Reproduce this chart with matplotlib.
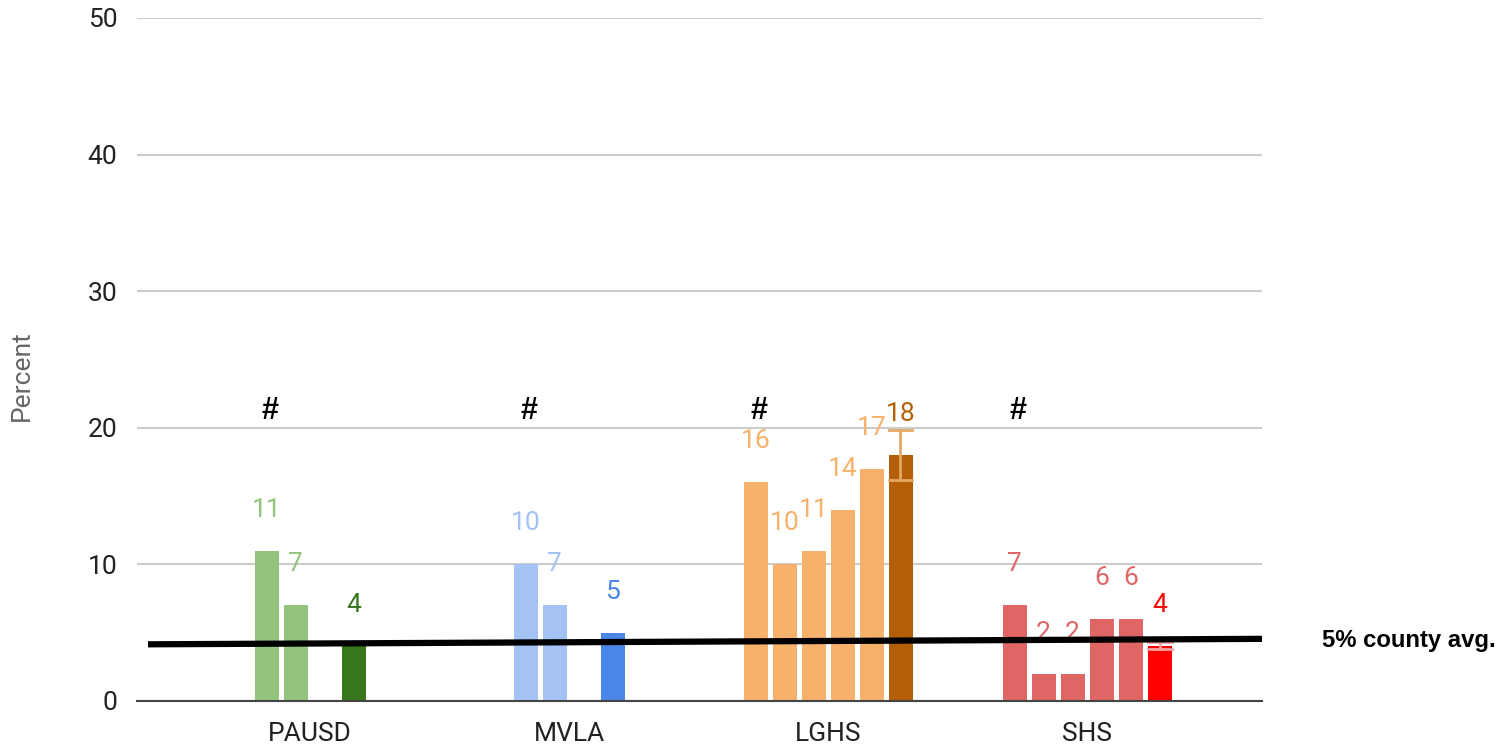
import matplotlib.pyplot as plt

# --- data ---
districts = ["PAUSD", "MVLA", "LGHS", "SHS"]
pausd_vals = [11, 7, None, 4]
mvla_vals = [10, 7, None, 5]
lghs_vals = [16, 10, 11, 14, 17, 18]
shs_vals = [7, 2, 2, 6, 6, 4]
all_vals = [pausd_vals, mvla_vals, lghs_vals, shs_vals]

pausd_colors = ["#93c47d", "#93c47d", None, "#38761d"]
mvla_colors = ["#a4c2f4", "#a4c2f4", None, "#4a86e8"]
lghs_colors = ["#f6b26b"] * 5 + ["#b45f06"]
shs_colors = ["#e06666"] * 5 + ["#ff0000"]
all_colors = [pausd_colors, mvla_colors, lghs_colors, shs_colors]

# error bars (group, slot, low, high)
errors = [(2, 5, 16.2, 19.85, "#e3a766"), (3, 5, 3.8, 4.3, "#f4a3a3")]
county_avg_start = 4.15
county_avg_end = 4.55
hash_y = 21.2

# layout
SLOT = 29 / 259
WIDTH = 24 / 259

plt.rcParams['font.family'] = ['Roboto', 'DejaVu Sans']
fig = plt.figure(figsize=(15.02, 7.45), dpi=100)
ax = fig.add_axes([137 / 1502, 44 / 745, 1125 / 1502, 683 / 745])

for gi, (vals, cols) in enumerate(zip(all_vals, all_colors)):
    n = len(vals)
    for si, (v, c) in enumerate(zip(vals, cols)):
        if v is None:
            continue
        x = gi + (si - (n - 1) / 2) * SLOT
        ax.bar(x, v, width=WIDTH, color=c, zorder=3)
        ax.text(x, v + 3, str(v), color=c, ha="center", va="center",
                fontsize=19, zorder=4)
    first_x = gi - (n - 1) / 2 * SLOT
    ax.text(first_x + 0.012, hash_y, "#", ha="center", va="center",
            fontsize=22, fontweight="bold", family="Liberation Sans", zorder=4)

for gi, si, lo, hi, c in errors:
    n = len(all_vals[gi])
    x = gi + (si - (n - 1) / 2) * SLOT
    ax.plot([x, x], [lo, hi], color=c, lw=2, zorder=5)
    for yy in (lo, hi):
        ax.plot([x - WIDTH / 2, x + WIDTH / 2], [yy, yy], color=c, lw=2, zorder=5)

xmin, xmax = -173 / 259, 952 / 259
ax.plot([-162 / 259, xmax], [county_avg_start, county_avg_end], color="black",
        lw=4.5, zorder=6, solid_capstyle="butt", clip_on=False)
ax.text(1322 / 259 - 310 / 259, county_avg_end - 0.1, "5% county avg.",
        ha="left", va="center", fontsize=17.2, fontweight="bold",
        family="Liberation Sans", clip_on=False)

ax.set_xlim(xmin, xmax)
ax.set_ylim(0, 50)
ax.set_yticks(range(0, 51, 10))
ax.set_xticks(range(len(districts)))
ax.set_xticklabels(districts)
ax.tick_params(axis="both", length=0, labelsize=19, colors="#222222")
ax.tick_params(axis="y", pad=14)
ax.tick_params(axis="x", pad=15)
ax.grid(axis="y", color="#cccccc", lw=1.5, zorder=0)
for s in ["top", "right", "left"]:
    ax.spines[s].set_visible(False)
ax.spines["bottom"].set_color("#444444")
ax.spines["bottom"].set_linewidth(1.5)
ax.spines["bottom"].set_zorder(4)
ax.set_ylabel("Percent", fontsize=19, color="#666666")
ax.yaxis.set_label_coords(-103 / 1125, 325 / 683)

fig.savefig("out.png", dpi=100)
